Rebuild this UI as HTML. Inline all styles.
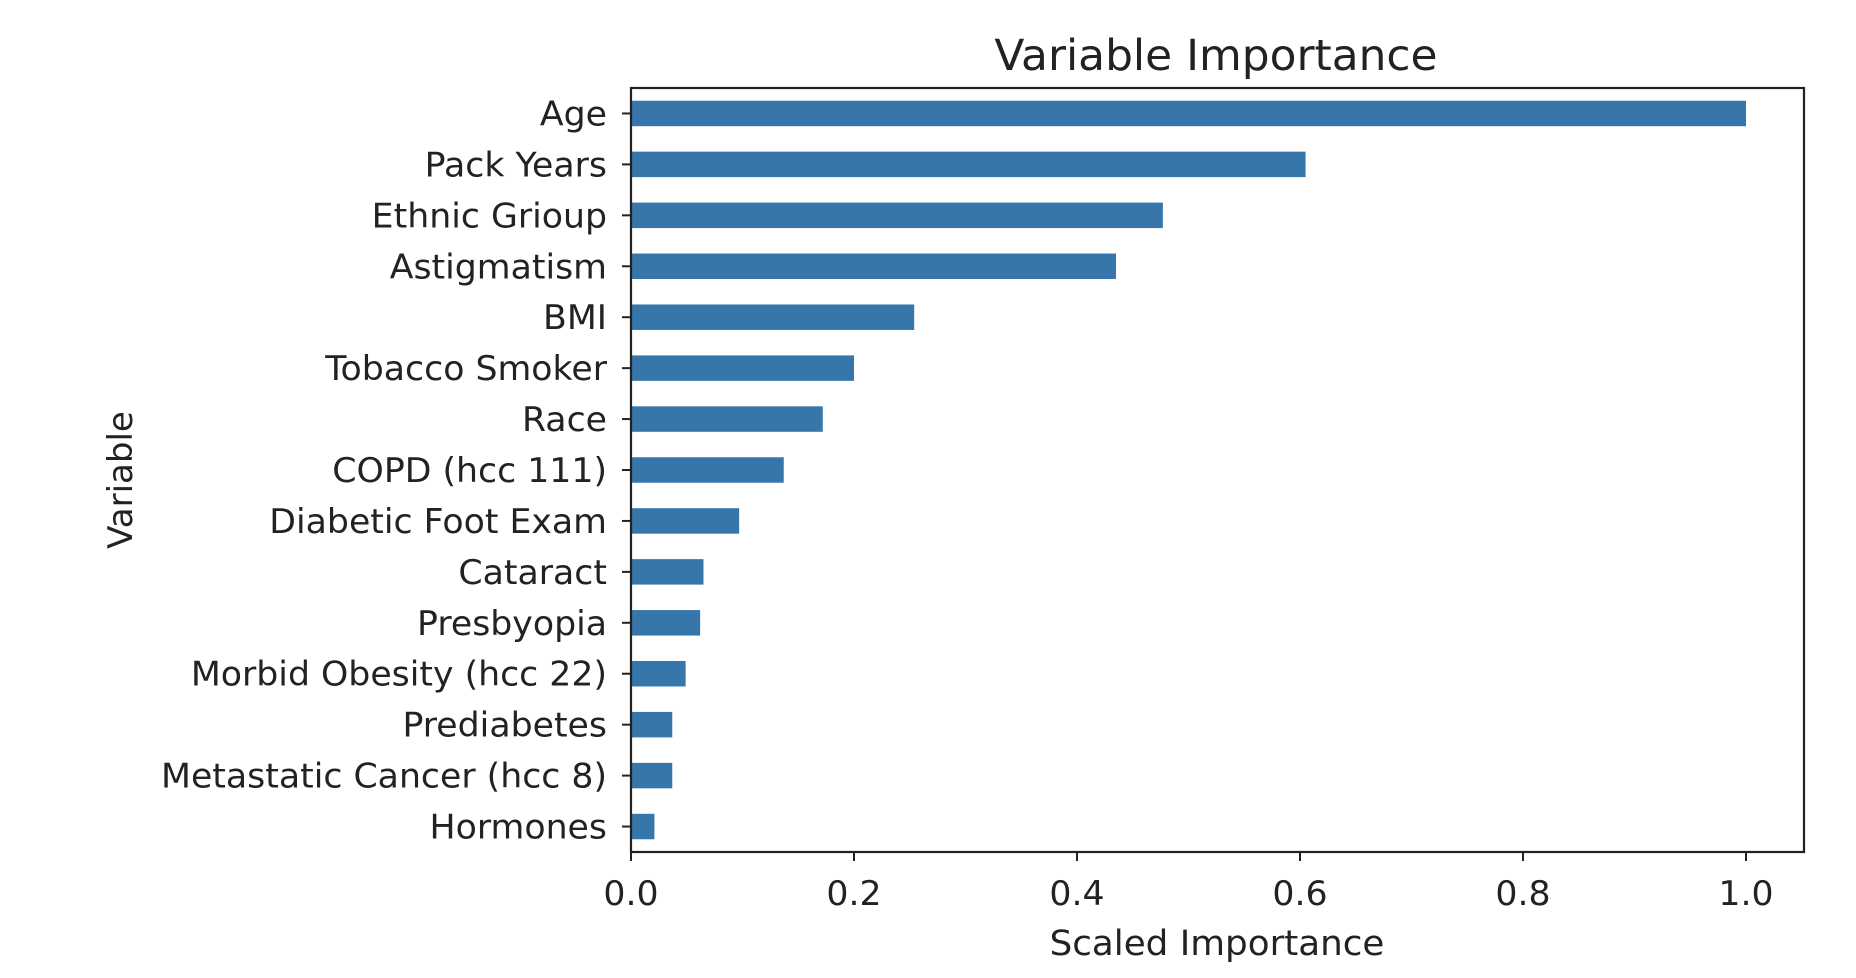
<!DOCTYPE html>
<html><head><meta charset="utf-8"><style>
html,body{margin:0;padding:0;background:#fff;}
svg{display:block;font-family:"DejaVu Sans","Liberation Sans",sans-serif;}
</style></head><body>
<svg id="chart" width="1856" height="978" viewBox="0 0 1856 978">
<g id="bars"></g>
<g id="yticks"></g>
<g id="xticks"></g>
<rect x="631" y="88" width="1173" height="764" fill="none" stroke="#222" stroke-width="2.2"/>
<text id="title" x="1216" y="70" font-size="43" text-anchor="middle" fill="#222">Variable Importance</text>
<text id="xlabel" x="1217" y="955" font-size="35" text-anchor="middle" fill="#222">Scaled Importance</text>
<text x="0" y="0" font-size="34" text-anchor="middle" fill="#222" transform="translate(132,480) rotate(-90)">Variable</text>
</svg>
<script>
const categories = ["Age","Pack Years","Ethnic Grioup","Astigmatism","BMI","Tobacco Smoker","Race","COPD (hcc 111)","Diabetic Foot Exam","Cataract","Presbyopia","Morbid Obesity (hcc 22)","Prediabetes","Metastatic Cancer (hcc 8)","Hormones"];
const importance = [1.0,0.605,0.477,0.435,0.254,0.2,0.172,0.137,0.097,0.065,0.062,0.049,0.037,0.037,0.021];
const xTickValues = [0,0.2,0.4,0.6,0.8,1.0];
const xTickLabels = ["0.0","0.2","0.4","0.6","0.8","1.0"];

const NS = "http://www.w3.org/2000/svg";
const X0 = 631, Y0 = 88, Y1 = 852;
const xScale = v => X0 + v * 1115;
const band = (Y1 - Y0) / categories.length;
const yScale = i => Y0 + band * (i + 0.5);
const barH = band * 0.5;

function mk(tag, attrs){const e=document.createElementNS(NS,tag);for(const k in attrs)e.setAttribute(k,attrs[k]);return e;}

const bars = document.getElementById('bars');
const yt = document.getElementById('yticks');
const xt = document.getElementById('xticks');
const labelEls = [];
categories.forEach((c,i)=>{
  const y = yScale(i);
  const r = mk('rect',{x:xScale(0),y:y-barH/2,width:xScale(importance[i])-xScale(0),height:barH,fill:'#3776ab'});
  
  
  bars.appendChild(r);
  const t = mk('line',{x1:X0-9,x2:X0,y1:y,y2:y,stroke:'#222','stroke-width':2});
  
  
  yt.appendChild(t);
  const l = mk('text',{x:X0-24,y:y+12,'font-size':34,'text-anchor':'end',fill:'#222'});
  l.textContent = c;
  
  
  yt.appendChild(l);
  labelEls.push(l);
});
xTickValues.forEach((v,i)=>{
  const x = xScale(v);
  const t = mk('line',{x1:x,x2:x,y1:Y1,y2:Y1+9,stroke:'#222','stroke-width':2});
  
  
  xt.appendChild(t);
  const l = mk('text',{x:x,y:905,'font-size':34,'text-anchor':'middle',fill:'#222'});
  l.textContent = xTickLabels[i];
  
  
  xt.appendChild(l);
  labelEls.push(l);
});
const ref = labelEls[13];
const sx = 446 / ref.getComputedTextLength();
labelEls.concat([document.getElementById('title'),document.getElementById('xlabel')]).forEach(el=>{
  const w = el.getComputedTextLength();
  el.setAttribute('textLength', w*sx);
  el.setAttribute('lengthAdjust','spacingAndGlyphs');
});
</script>
</body></html>
